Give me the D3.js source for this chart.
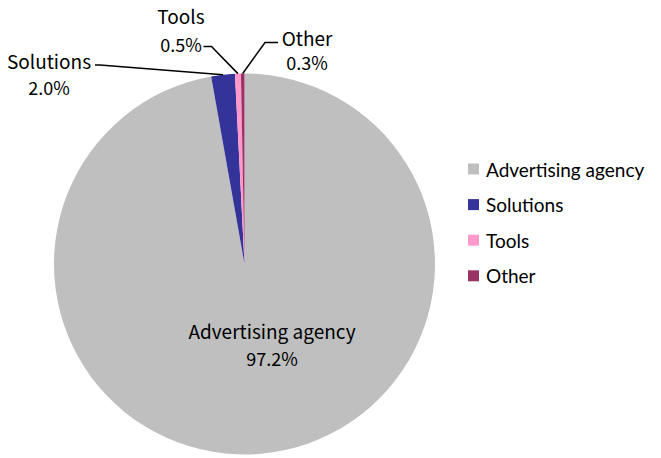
<!DOCTYPE html>
<html><head><meta charset="utf-8">
<script src="https://cdn.jsdelivr.net/npm/d3@7"></script>
<style>body{margin:0;background:#fff}svg{display:block}</style>
</head><body>
<svg id="c" width="661" height="458"></svg>
<script>
const categories = ["Advertising agency", "Solutions", "Tools", "Other"];
const values = [97.2, 2.0, 0.5, 0.3];
const colors = ["#BFBFBF", "#333399", "#FF99CC", "#993366"];

const svg = d3.select("#c");
const cx = 244.5, cy = 264, r = 190.5;
const data = categories.map((c, i) => ({name: c, value: values[i], color: colors[i]}));
const pie = d3.pie().value(d => d.value).sort(null);
const arc = d3.arc().innerRadius(0).outerRadius(r);
const arcs = pie(data);

const g = svg.append("g").attr("transform", `translate(${cx},${cy})`);
g.selectAll("path").data(arcs).join("path")
  .attr("d", arc).attr("fill", d => d.data.color);

const labelFont = "'Noto Sans CJK JP', 'DejaVu Sans', sans-serif";
const labelPos = [
  {x: 272, y1: 330, y2: 358},
  {x: 49, y1: 60, y2: 87},
  {x: 181, y1: 15, y2: 44},
  {x: 307, y1: 37, y2: 62}
];
const leaders = [null,
  {p0: [95, 65], p1: [100, 65]},
  {p0: [203.5, 46.5], p1: [211.5, 46.5]},
  {p0: [278, 42.5], p1: [265, 42.5]}
];
arcs.forEach((a, i) => {
  const lp = labelPos[i];
  const t = svg.append("text").attr("font-family", labelFont)
    .attr("fill", "#000").attr("text-anchor", "middle");
  t.append("tspan").attr("x", lp.x).attr("y", lp.y1).attr("font-size", 19)
    .attr("dominant-baseline", "central").text(a.data.name);
  t.append("tspan").attr("x", lp.x).attr("y", lp.y2).attr("font-size", 18)
    .attr("dominant-baseline", "central").text(d3.format(".1f")(a.data.value) + "%");
  const L = leaders[i];
  if (L) {
    const mid = (a.startAngle + a.endAngle) / 2;
    const edge = [cx + r * Math.sin(mid), cy - r * Math.cos(mid)];
    svg.append("polyline")
      .attr("points", [L.p0, L.p1, edge].map(p => p.join(",")).join(" "))
      .attr("fill", "none").attr("stroke", "#000").attr("stroke-width", 1.5);
  }
});

const legend = svg.append("g");
const ly0 = 169, ldy = 35.6;
data.forEach((d, i) => {
  const y = ly0 + i * ldy;
  legend.append("rect").attr("x", 468).attr("y", y - 5.5).attr("width", 11).attr("height", 11).attr("fill", d.color);
  legend.append("text").attr("x", 486).attr("y", y).attr("dominant-baseline", "central")
    .attr("font-family", "Lato, 'Open Sans', sans-serif").attr("font-size", 19).attr("fill", "#000").text(d.name);
});
</script>
</body></html>
